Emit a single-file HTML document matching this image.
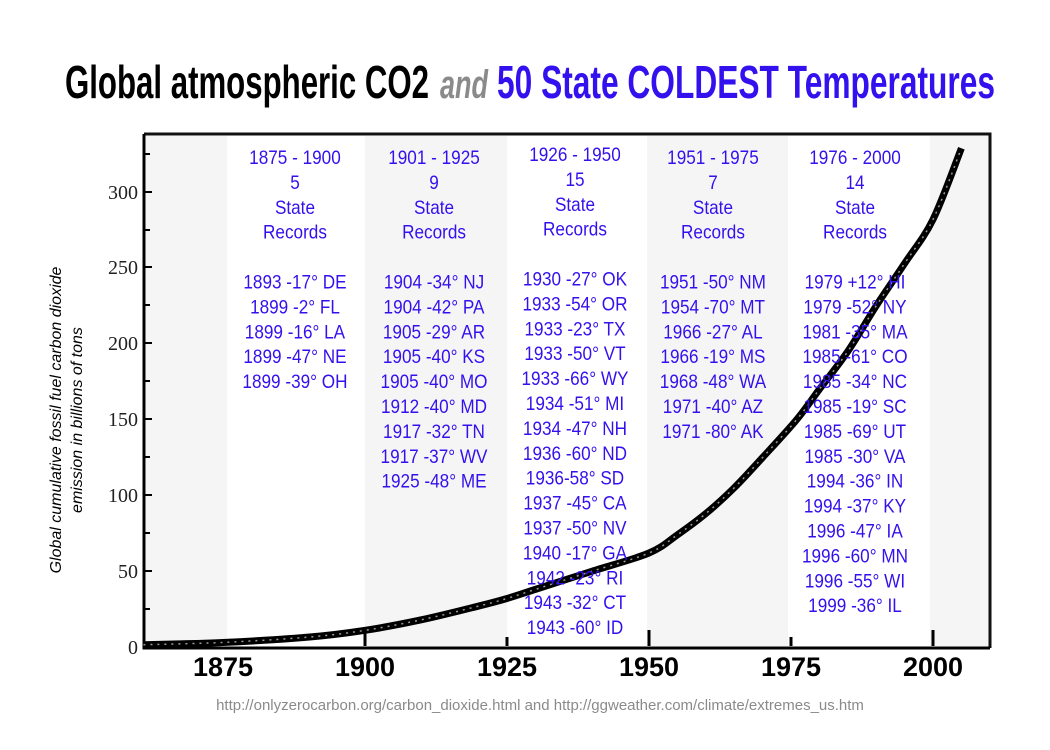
<!DOCTYPE html>
<html><head><meta charset="utf-8"><style>
html,body{margin:0;padding:0;background:#fff;}
svg{display:block;}
</style></head><body>
<svg width="1050" height="750" xmlns="http://www.w3.org/2000/svg">
<rect width="1050" height="750" fill="#fff"/>
<text x="65" y="98" font-family="Liberation Sans, sans-serif" font-weight="bold" font-size="46" textLength="364" lengthAdjust="spacingAndGlyphs" fill="#000">Global atmospheric CO2</text>
<text x="440" y="98" font-family="Liberation Sans, sans-serif" font-weight="bold" font-style="italic" font-size="40" textLength="48" lengthAdjust="spacingAndGlyphs" fill="#8a8a8a">and</text>
<text x="497" y="98" font-family="Liberation Sans, sans-serif" font-weight="bold" font-size="46" textLength="498" lengthAdjust="spacingAndGlyphs" fill="#3311ee">50 State COLDEST Temperatures</text>
<g fill="#f6f5f6">
<rect x="146" y="136" width="81" height="510"/>
<rect x="365" y="136" width="142" height="510"/>
<rect x="647" y="136" width="141" height="510"/>
<rect x="930" y="136" width="59" height="510"/>
</g>
<path d="M144 134 H990 V648" fill="none" stroke="#111" stroke-width="3"/>
<path d="M144 134 V648 H990" fill="none" stroke="#000" stroke-width="3"/>
<g stroke="#000" stroke-width="2">
<line x1="144" y1="154" x2="150" y2="154"/><line x1="144" y1="192" x2="152" y2="192"/>
<line x1="144" y1="230" x2="150" y2="230"/><line x1="144" y1="267" x2="152" y2="267"/>
<line x1="144" y1="305" x2="150" y2="305"/><line x1="144" y1="343" x2="152" y2="343"/>
<line x1="144" y1="381" x2="150" y2="381"/><line x1="144" y1="419" x2="152" y2="419"/>
<line x1="144" y1="457" x2="150" y2="457"/><line x1="144" y1="495" x2="152" y2="495"/>
<line x1="144" y1="533" x2="150" y2="533"/><line x1="144" y1="571" x2="152" y2="571"/>
<line x1="144" y1="609" x2="150" y2="609"/>
</g>
<g stroke="#000" stroke-width="3">
<line x1="365" y1="646" x2="365" y2="630"/><line x1="507" y1="646" x2="507" y2="637"/>
<line x1="649" y1="646" x2="649" y2="630"/><line x1="791" y1="646" x2="791" y2="637"/>
<line x1="933" y1="646" x2="933" y2="630"/>
</g>
<g font-family="Liberation Serif, serif" font-size="20" text-anchor="end" fill="#222">
<text x="138" y="199">300</text><text x="138" y="274">250</text><text x="138" y="350">200</text>
<text x="138" y="426">150</text><text x="138" y="502">100</text><text x="138" y="578">50</text>
<text x="138" y="654">0</text>
</g>
<g font-family="Liberation Sans, sans-serif" font-weight="bold" font-size="27" text-anchor="middle" fill="#000">
<text x="223" y="676">1875</text><text x="365" y="676">1900</text><text x="507" y="676">1925</text>
<text x="649" y="676">1950</text><text x="791" y="676">1975</text><text x="933" y="676">2000</text>
</g>
<g font-family="Liberation Sans, sans-serif" font-style="italic" font-size="16" text-anchor="middle" fill="#000">
<text transform="translate(61,420) rotate(-90)">Global cumulative fossil fuel carbon dioxide</text>
<text transform="translate(82,420) rotate(-90)">emission in billions of tons</text>
</g>
<path id="curve" fill="none" stroke="#000" stroke-width="7" stroke-linejoin="round"/>
<path id="curve2" fill="none" stroke="#999" stroke-width="1.5" stroke-dasharray="2 5"/>
<g id="cols" transform="scale(0.88,1)" font-family="Liberation Sans, sans-serif" font-size="19.5" text-anchor="middle" fill="#3311ee"></g>
<text x="540" y="710" font-family="Liberation Sans, sans-serif" font-size="15" text-anchor="middle" fill="#8a8a8a">http://onlyzerocarbon.org/carbon_dioxide.html and http://ggweather.com/climate/extremes_us.htm</text>
</svg>
<script>
var pts=[[1861,1.5],[1875,3],[1890,6.5],[1900,11],[1910,18],[1920,27],[1925,32],[1930,38],[1940,50],[1950,62],[1955,74],[1960,88],[1965,105],[1970,125],[1976,150],[1980,170],[1985,195],[1990,225],[1995,253],[2000,282],[2005,329]];
function X(y){return 365+(y-1900)*142/25;}function Y(v){return 647-v*1.516;}
var P=pts.map(function(p){return [X(p[0]),Y(p[1])];});
var d='M'+P[0][0]+' '+P[0][1];
for(var i=0;i<P.length-1;i++){var p0=P[Math.max(i-1,0)],p1=P[i],p2=P[i+1],p3=P[Math.min(i+2,P.length-1)];
var c1=[p1[0]+(p2[0]-p0[0])/6,p1[1]+(p2[1]-p0[1])/6],c2=[p2[0]-(p3[0]-p1[0])/6,p2[1]-(p3[1]-p1[1])/6];
d+=' C'+c1.join(' ')+' '+c2.join(' ')+' '+p2.join(' ');}
document.getElementById('curve').setAttribute('d',d);document.getElementById('curve2').setAttribute('d',d);
var cols=[
[295,157,["1875 - 1900","5","State","Records","","1893 -17° DE","1899 -2° FL","1899 -16° LA","1899 -47° NE","1899 -39° OH"]],
[434,157,["1901 - 1925","9","State","Records","","1904 -34° NJ","1904 -42° PA","1905 -29° AR","1905 -40° KS","1905 -40° MO","1912 -40° MD","1917 -32° TN","1917 -37° WV","1925 -48° ME"]],
[575,154,["1926 - 1950","15","State","Records","","1930 -27° OK","1933 -54° OR","1933 -23° TX","1933 -50° VT","1933 -66° WY","1934 -51° MI","1934 -47° NH","1936 -60° ND","1936-58° SD","1937 -45° CA","1937 -50° NV","1940 -17° GA","1942 -23° RI","1943 -32° CT","1943 -60° ID"]],
[713,157,["1951 - 1975","7","State","Records","","1951 -50° NM","1954 -70° MT","1966 -27° AL","1966 -19° MS","1968 -48° WA","1971 -40° AZ","1971 -80° AK"]],
[855,157,["1976 - 2000","14","State","Records","","1979 +12° HI","1979 -52° NY","1981 -35° MA","1985 -61° CO","1985 -34° NC","1985 -19° SC","1985 -69° UT","1985 -30° VA","1994 -36° IN","1994 -37° KY","1996 -47° IA","1996 -60° MN","1996 -55° WI","1999 -36° IL"]]];
var g=document.getElementById('cols'),h='';
cols.forEach(function(c){c[2].forEach(function(t,i){if(t)h+='<text x="'+(c[0]/0.88).toFixed(1)+'" y="'+(c[1]+7+i*24.9)+'">'+t+'</text>';});});
g.innerHTML=h;
</script>
</body></html>
